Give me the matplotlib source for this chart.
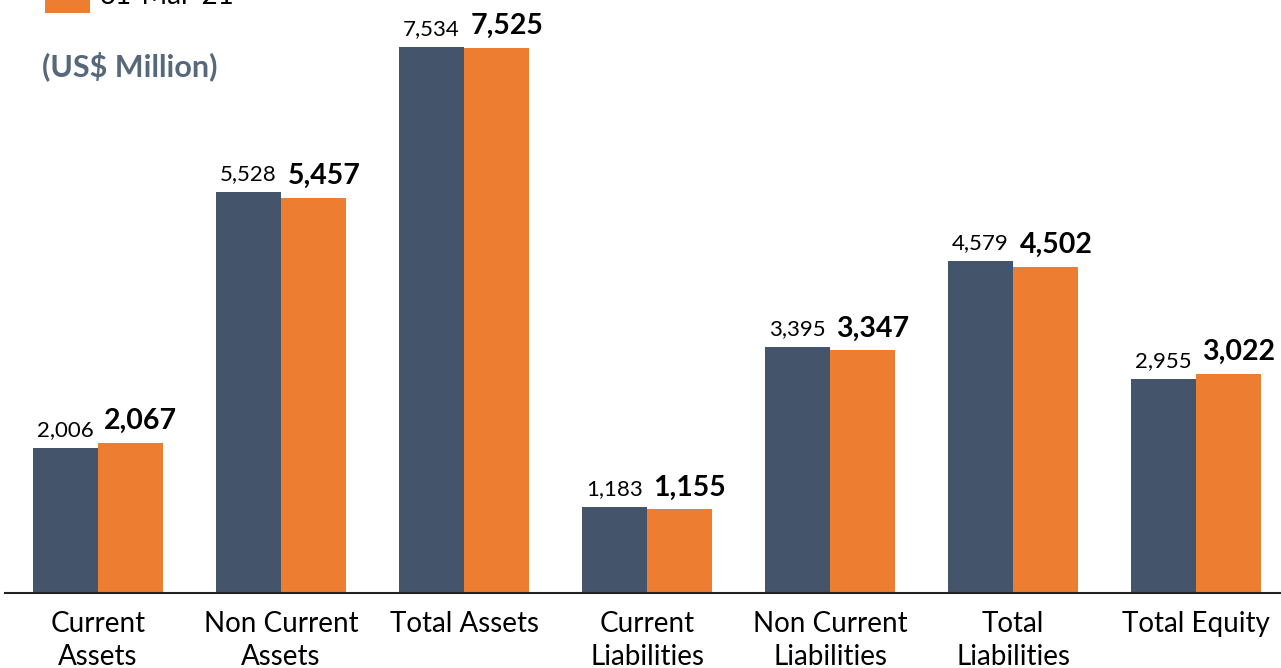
import matplotlib
matplotlib.use("Agg")
import matplotlib.pyplot as plt
import numpy as np
from matplotlib.patches import Rectangle

categories = ["Current\nAssets", "Non Current\nAssets", "Total Assets", "Current\nLiabilities",
              "Non Current\nLiabilities", "Total\nLiabilities", "Total Equity"]
dec20 = [2006, 5528, 7534, 1183, 3395, 4579, 2955]
mar21 = [2067, 5457, 7525, 1155, 3347, 4502, 3022]
series_names = ["31-Dec-20", "31-Mar-21"]

DARK = "#44546a"
ORANGE = "#ed7d31"

plt.rcParams['font.family'] = ['Lato', 'DejaVu Sans']

W, H = 1281, 668
fig = plt.figure(figsize=(W / 100, H / 100), dpi=100)
ax = fig.add_axes([5 / W, 75 / H, 1 - 5 / W, 593 / H])

x = np.arange(len(categories))
bw = 0.355
ax.bar(x - bw / 2, dec20, bw, color=DARK, label=series_names[0])
ax.bar(x + bw / 2, mar21, bw, color=ORANGE, label=series_names[1])

ax.set_xlim(-0.508, 6.464)
ax.set_ylim(0, 8183)

for xi, v in zip(x, dec20):
    ax.annotate(f"{v:,}", (xi - bw / 2, v), xytext=(0, 8.6), textcoords="offset points",
                ha="center", va="baseline", fontsize=16, color="black")
for xi, v in zip(x, mar21):
    ax.annotate(f"{v:,}", (xi + bw / 2, v), xytext=(7.5, 10), textcoords="offset points",
                ha="center", va="baseline", fontsize=20.5, fontweight="bold", color="black")

for s in ["top", "right", "left"]:
    ax.spines[s].set_visible(False)
ax.spines["bottom"].set_color("#222222")
ax.spines["bottom"].set_linewidth(1.5)
ax.set_yticks([])
ax.set_xticks(x)
ax.set_xticklabels(categories, fontsize=20, linespacing=1.35)
ax.tick_params(axis="x", length=0, pad=13)

# partially visible legend (cut off at top)
fig.patches.append(Rectangle((45 / W, 1 - 12.6 / H), 45 / W, 20 / H, transform=fig.transFigure,
                             facecolor=ORANGE, edgecolor="none"))
fig.text(100 / W, 1 - 4 / H, series_names[1], fontsize=20, va="baseline", ha="left")

fig.text(42 / W, 1 - 76 / H, "(US$ Million)", fontsize=22, fontweight="bold",
         color="#56687a", va="baseline", ha="left")

fig.savefig("out.png", dpi=100)
